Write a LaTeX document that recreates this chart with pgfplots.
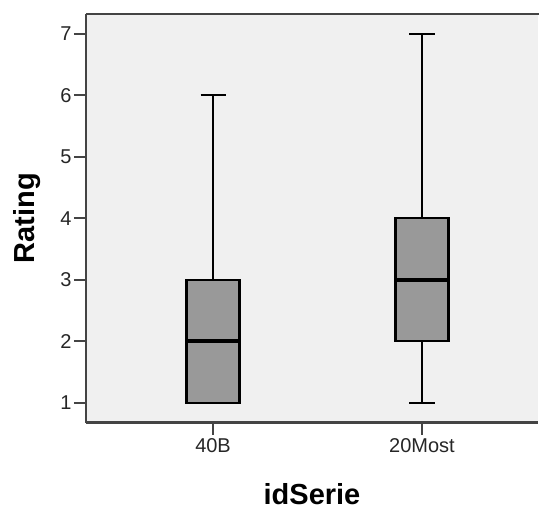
\documentclass[border=0pt]{standalone}
\usepackage{fontspec}
\setmainfont{Liberation Sans}
\usepackage{pgfplots}
\pgfplotsset{compat=1.18}
\usepgfplotslibrary{statistics}

\definecolor{spssbg}{HTML}{F0F0F0}
\definecolor{spssbox}{HTML}{999999}
\definecolor{spssaxis}{HTML}{444444}

\begin{document}
\begin{tikzpicture}
\useasboundingbox (-86pt,-88.4pt) rectangle (453pt,422.6pt);
\begin{axis}[
    scale only axis,
    width=452pt, height=408.6pt,
    xmin=0.392, xmax=2.555,
    ymin=0.676, ymax=7.325,
    axis lines*=left,
    axis line style={spssaxis, line width=2.6pt},
    axis background/.style={fill=spssbg},
    xtick={1,2},
    xticklabels={40B,20Most},
    ytick={1,2,3,4,5,6,7},
    tick align=outside,
    major tick length=12pt,
    tick style={spssaxis, line width=2pt},
    /pgf/number format/assume math mode=true,
    tick label style={font=\fontsize{20}{22}\selectfont, text=black!85},
    yticklabel style={xshift=1pt},
    xlabel={idSerie},
    ylabel={Rating},
    label style={font=\fontsize{29}{32}\selectfont\bfseries},
    xlabel style={at={(axis description cs:0.5,-0.176)}, anchor=center},
    ylabel style={at={(axis description cs:-0.13,0.5)}, anchor=center, rotate=0},
    clip=false,
    boxplot/draw direction=y,
    boxplot/box extend=0.254,
    boxplot/whisker extend=0.12,
    boxplot/every box/.style={draw=black, fill=spssbox, line width=2.2pt},
    boxplot/every whisker/.style={draw=black, line width=2pt},
    boxplot/every median/.style={draw=black, line width=4.2pt},
]
\addplot+[mark=none, black,
    boxplot prepared={draw position=1,
        lower whisker=1, lower quartile=1, median=2,
        upper quartile=3, upper whisker=6}]
    coordinates {};
\addplot+[mark=none, black,
    boxplot prepared={draw position=2,
        lower whisker=1, lower quartile=2, median=3,
        upper quartile=4, upper whisker=7}]
    coordinates {};
\draw[spssaxis, line width=2.6pt] (rel axis cs:0,1) -- (rel axis cs:1.003,1);
\end{axis}
\end{tikzpicture}
\end{document}
